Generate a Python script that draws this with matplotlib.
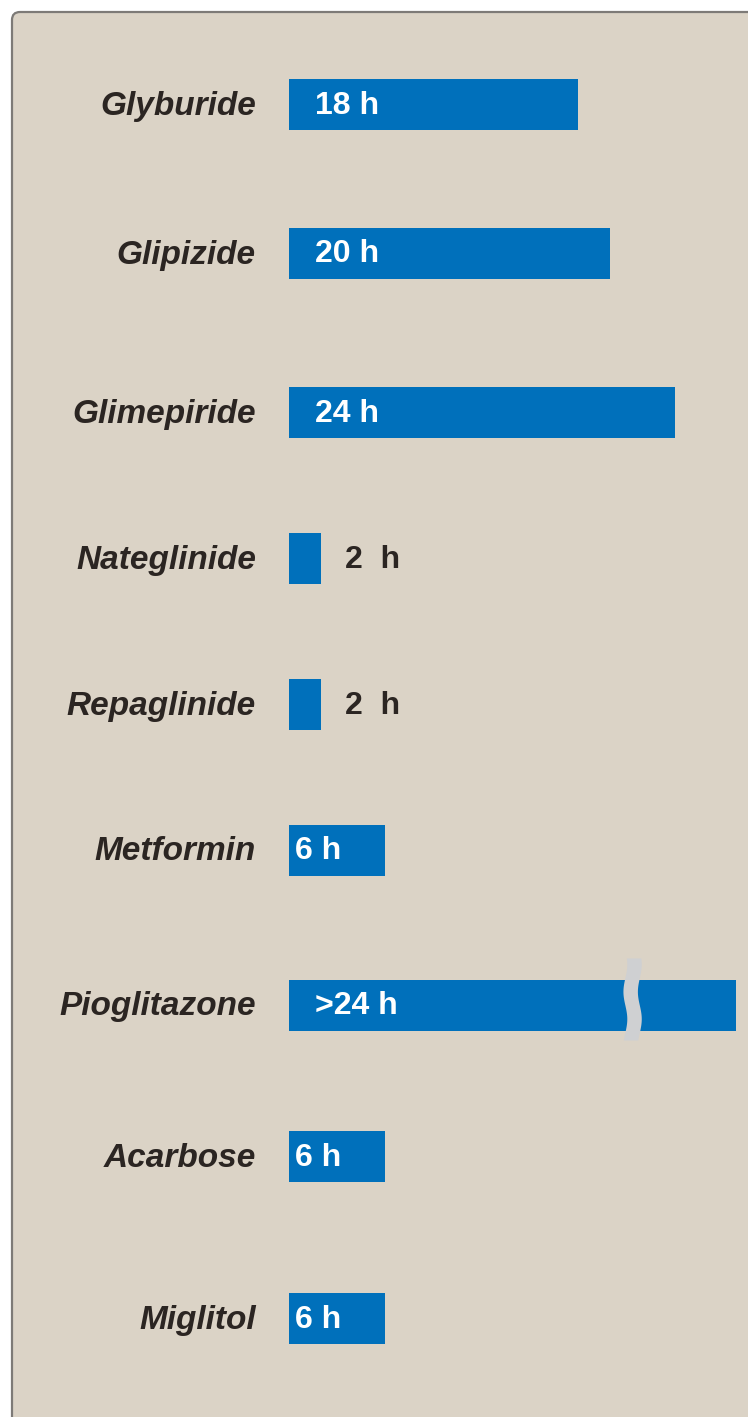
import numpy as np
import matplotlib
matplotlib.use("Agg")
import matplotlib.pyplot as plt
from matplotlib.patches import FancyBboxPatch

# ---- data ----
drugs = ["Glyburide", "Glipizide", "Glimepiride", "Nateglinide", "Repaglinide",
         "Metformin", "Pioglitazone", "Acarbose", "Miglitol"]
hours = [18, 20, 24, 2, 2, 6, 27.8, 6, 6]
value_labels = ["18 h", "20 h", "24 h", "2 h", "2 h", "6 h", ">24 h", "6 h", "6 h"]
label_inside = [True, True, True, False, False, True, True, True, True]
broken = [False, False, False, False, False, False, True, False, False]

# ---- layout (pixels) ----
W, H = 748, 1417
DPI = 100
y_centers = [104.5, 253.5, 412.5, 558.5, 704.5, 850, 1005, 1156.5, 1318.5]
bar_h = 51
x0_px = 289
px_per_h = 16.07
BG = "#dbd3c6"
BAR = "#0070bb"
TXT = "#2b2522"

fig = plt.figure(figsize=(W / DPI, H / DPI), dpi=DPI)
fig.patch.set_facecolor("white")

# panel
panel = FancyBboxPatch((12, -40), W + 40, H + 28, boxstyle="round,pad=0,rounding_size=8",
                       transform=None, facecolor=BG, edgecolor="#7d7a77", linewidth=1.6,
                       zorder=-5)
fig.patches.append(panel)

ax = fig.add_axes([x0_px / W, 0, (W - x0_px) / W, 1])
ax.set_zorder(2)
ax.set_xlim(0, (W - x0_px) / px_per_h)
ax.set_ylim(H, 0)
ax.axis("off")
ax.patch.set_alpha(0)

fnt = ["Liberation Sans", "DejaVu Sans"]

ax.barh(y_centers, hours, height=bar_h, left=0, color=BAR, zorder=2)

for i, (d, v, lab, inside, brk) in enumerate(zip(drugs, hours, value_labels, label_inside, broken)):
    y = y_centers[i]
    # drug name
    fig.text(256 / W, 1 - (y + 2) / H, d, ha="right", va="center",
             fontsize=24, fontweight="bold", fontstyle="italic", color=TXT, family=fnt,
             zorder=3)
    # value label
    if inside:
        off = 0.35 if lab.startswith("6") else 1.6
        ax.text(off, y + 1, lab, ha="left", va="center", fontsize=23, fontweight="bold",
                color="white", family=fnt, zorder=4)
    else:
        ax.text(v + 1.5, y + 1, lab.replace(" ", "  "), ha="left", va="center", fontsize=23,
                fontweight="bold", color=TXT, family=fnt, zorder=4)
    if brk:
        bx = 21.35
        yy = np.linspace(y - 47, y + 35, 200)
        wig = 0.12 * np.sin((yy - y) / 82 * 2 * np.pi * 1.5)
        ax.fill_betweenx(yy, bx - 0.45 + wig, bx + 0.45 + wig, color="#cfd0d2",
                         zorder=3, linewidth=0)

fig.savefig("out.png", dpi=DPI, facecolor=fig.get_facecolor())
